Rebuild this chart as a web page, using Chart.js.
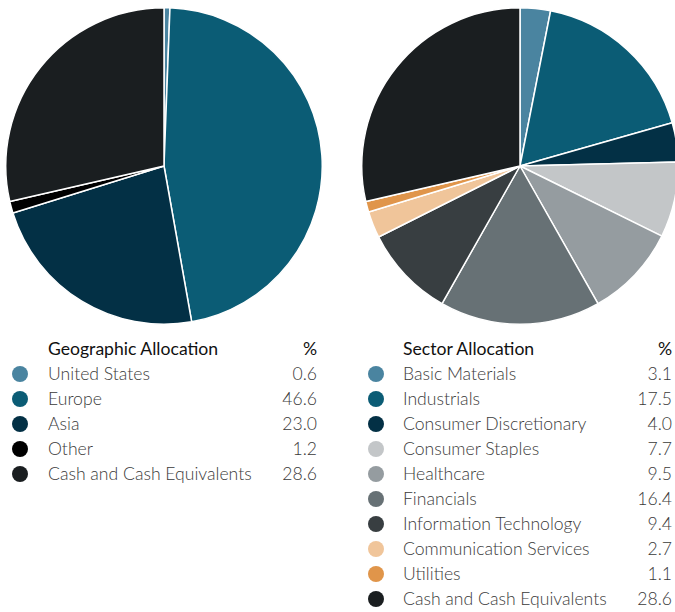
<!DOCTYPE html>
<html lang="en">
<head>
<meta charset="UTF-8">
<title>Allocation</title>
<script src="https://cdn.jsdelivr.net/npm/chart.js"></script>
<style>
  html, body { margin: 0; padding: 0; background: #fff; }
  body { width: 675px; height: 612px; overflow: hidden; position: relative; font-family: Lato, "Open Sans", sans-serif; }
  .pie { position: absolute; top: 7px; width: 318px; height: 318px; }
  .legend { position: absolute; top: 336px; }
  .row { position: relative; height: 25px; line-height: 25px; font-size: 17.6px; color: #3a3a3a; font-weight: 300; }
  .row.head { color: #111; font-weight: 400; }
  .dot { position: absolute; top: 5px; width: 16px; height: 16px; border-radius: 50%; }
  .name { position: absolute; white-space: nowrap; }
  .val { position: absolute; right: 0; }
</style>
</head>
<body>
  <div class="pie" id="geoBox" style="left:5px"><canvas id="geoChart"></canvas></div>
  <div class="pie" id="secBox" style="left:361px"><canvas id="secChart"></canvas></div>
  <div class="legend" id="geoLegend" style="left:12px; width:305px"></div>
  <div class="legend" id="secLegend" style="left:368px; width:304px"></div>

<script>
// 地域別
const geoLabels = ['United States', 'Europe', 'Asia', 'Other', 'Cash and Cash Equivalents'];
const geoValues = [0.6, 46.6, 23.0, 1.2, 28.6];
const geoColors = ['#4a84a0', '#0b5c75', '#033045', '#000000', '#1a1e20'];

// セクター別
const secLabels = ['Basic Materials', 'Industrials', 'Consumer Discretionary', 'Consumer Staples',
  'Healthcare', 'Financials', 'Information Technology', 'Communication Services', 'Utilities',
  'Cash and Cash Equivalents'];
const secValues = [3.1, 17.5, 4.0, 7.7, 9.5, 16.4, 9.4, 2.7, 1.1, 28.6];
const secColors = ['#4a84a0', '#0b5c75', '#033045', '#c3c6c8', '#959ca0', '#677175', '#383e41',
  '#f0c59a', '#e0954a', '#1a1e20'];

function createPie(id, labels, values, colors) {
  return new Chart(document.getElementById(id), {
    type: 'pie',
    data: {
      labels: labels,
      datasets: [{
        data: values,
        backgroundColor: colors,
        borderColor: '#ffffff',
        borderWidth: 1.5
      }]
    },
    options: {
      responsive: true,
      maintainAspectRatio: false,
      animation: false,
      layout: { padding: 0 },
      plugins: { legend: { display: false }, tooltip: { enabled: false } }
    }
  });
}

function buildLegend(id, title, labels, values, colors, labelX) {
  const box = document.getElementById(id);
  let html = `<div class="row head"><span class="name" style="left:${labelX}px">${title}</span><span class="val">%</span></div>`;
  labels.forEach((l, i) => {
    html += `<div class="row"><span class="dot" style="left:0;background:${colors[i]}"></span>` +
      `<span class="name" style="left:${labelX}px">${l}</span><span class="val">${values[i].toFixed(1)}</span></div>`;
  });
  box.innerHTML = html;
}

createPie('geoChart', geoLabels, geoValues, geoColors);
createPie('secChart', secLabels, secValues, secColors);
buildLegend('geoLegend', 'Geographic Allocation', geoLabels, geoValues, geoColors, 36);
buildLegend('secLegend', 'Sector Allocation', secLabels, secValues, secColors, 35);
</script>
</body>
</html>
